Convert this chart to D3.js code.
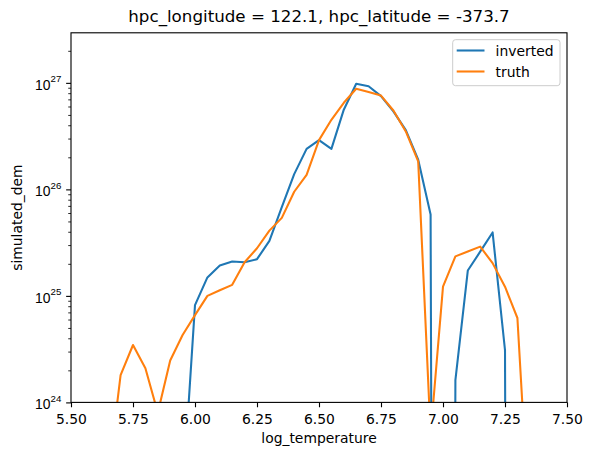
<!DOCTYPE html>
<html>
<head>
<meta charset="utf-8">
<script src="https://cdn.jsdelivr.net/npm/d3@7"></script>
<style>
  html, body { margin: 0; padding: 0; background: #fff; }
  svg { display: block; font-family: "DejaVu Sans", sans-serif; }
</style>
</head>
<body>
<svg id="chart" width="592" height="455"></svg>
<script>
// ---- data ----
const logTemperature = [5.50, 5.55, 5.60, 5.65, 5.70, 5.75, 5.80, 5.85, 5.90, 5.95,
  6.00, 6.05, 6.10, 6.15, 6.20, 6.25, 6.30, 6.35, 6.40, 6.45,
  6.50, 6.55, 6.60, 6.65, 6.70, 6.75, 6.80, 6.85, 6.90, 6.95,
  7.00, 7.05, 7.10, 7.15, 7.20, 7.25, 7.30, 7.35, 7.40, 7.45, 7.50];

const inverted = [1e-10, 1e-10, 1e-10, 1e-10, 1e-10, 1e-10, 1e-10, 1e-10, 1e-10, 1.3e23,
  8.2e24, 1.49e25, 1.93e25, 2.1e25, 2.07e25, 2.21e25, 3.29e25, 6.8e25, 1.39e26, 2.4e26,
  2.9e26, 2.4e26, 5.6e26, 9.8e26, 9.3e26, 7.5e26, 5.4e26, 3.6e26, 1.9e26, 5.8e25,
  1e-10, 1.62e24, 1.73e25, 2.6e25, 3.94e25, 3.1e24, 1e-10, 1e-10, 1e-10, 1e-10, 1e-10];

const truth = [1e-10, 1e-10, 1e-10, 2e23, 1.8e24, 3.46e24, 2.09e24, 8e23, 2.47e24, 4.3e24,
  6.6e24, 1.0e25, 1.13e25, 1.27e25, 2.07e25, 2.8e25, 4.1e25, 5.4e25, 9.5e25, 1.37e26,
  2.9e26, 4.5e26, 6.5e26, 8.8e26, 8.2e26, 7.6e26, 5.5e26, 3.5e26, 1.83e26, 5e23,
  1.22e25, 2.35e25, 2.61e25, 2.9e25, 2.03e25, 1.22e25, 6.2e24, 6e22, 1e-10, 1e-10, 1e-10];

const xTicks = [5.50, 5.75, 6.00, 6.25, 6.50, 6.75, 7.00, 7.25, 7.50];
const yTickExponents = [24, 25, 26, 27];
const xDomain = [5.5, 7.5];
const yDomain = [1e24, Math.pow(10, 27.47)];

const seriesNames = ["inverted", "truth"];
const seriesColors = ["#1f77b4", "#ff7f0e"];
const titleText = "hpc_longitude = 122.1, hpc_latitude = -373.7";
const xLabel = "log_temperature";
const yLabel = "simulated_dem";

// ---- layout ----
const L = 71, R = 567, T = 32.8, B = 402.4;
const svg = d3.select("#chart");

const x = d3.scaleLinear().domain(xDomain).range([L, R]);
const y = d3.scaleLog().domain(yDomain).range([B, T]);

svg.append("defs").append("clipPath").attr("id", "clip")
  .append("rect").attr("x", L).attr("y", T).attr("width", R - L).attr("height", B - T);

// lines
const series = [inverted, truth];
const line = d3.line().x((d, i) => x(logTemperature[i])).y(d => y(d));
const plot = svg.append("g").attr("clip-path", "url(#clip)");
series.forEach((s, k) => {
  plot.append("path")
    .datum(s)
    .attr("d", line)
    .attr("fill", "none")
    .attr("stroke", seriesColors[k])
    .attr("stroke-width", 2.08)
    .attr("stroke-linejoin", "round")
    .attr("stroke-linecap", "square");
});

// x axis
const xAxis = d3.axisBottom(x).tickValues(xTicks).tickFormat(d3.format(".2f"))
  .tickSize(4.86).tickPadding(3.5).tickSizeOuter(0);
const gx = svg.append("g").attr("transform", `translate(0,${B})`).call(xAxis);
gx.select(".domain").remove();
gx.selectAll(".tick line").attr("stroke", "#000").attr("stroke-width", 1.11);
gx.selectAll(".tick text").attr("font-size", 13.9).attr("fill", "#000")
  .attr("font-family", "DejaVu Sans").attr("dy", null).attr("y", 22);

// y axis major
const yMajor = yTickExponents.map(e => Math.pow(10, e));
const yAxis = d3.axisLeft(y).tickValues(yMajor).tickFormat("").tickSize(4.86).tickSizeOuter(0);
const gy = svg.append("g").attr("transform", `translate(${L},0)`).call(yAxis);
gy.select(".domain").remove();
gy.selectAll(".tick line").attr("stroke", "#000").attr("stroke-width", 1.11);
gy.selectAll(".tick").each(function(d, i) {
  const t = d3.select(this).append("text")
    .attr("x", -9.7).attr("y", 6.5)
    .attr("text-anchor", "end")
    .attr("fill", "#000")
    .attr("font-size", 13.9);
  t.append("tspan").text("10");
  t.append("tspan").attr("dy", -7.8).attr("font-size", 9.7).text(String(yTickExponents[i]));
});

// y minor ticks
const minorVals = [];
for (let e = 23; e <= 27; e++) {
  for (let m = 2; m <= 9; m++) {
    const v = m * Math.pow(10, e);
    if (v >= yDomain[0] && v <= yDomain[1]) minorVals.push(v);
  }
}
const yMinorAxis = d3.axisLeft(y).tickValues(minorVals).tickFormat("").tickSize(2.78).tickSizeOuter(0);
const gym = svg.append("g").attr("transform", `translate(${L},0)`).call(yMinorAxis);
gym.select(".domain").remove();
gym.selectAll(".tick line").attr("stroke", "#000").attr("stroke-width", 0.83);

// frame
svg.append("rect").attr("x", L).attr("y", T).attr("width", R - L).attr("height", B - T)
  .attr("fill", "none").attr("stroke", "#000").attr("stroke-width", 1.11);

// labels
svg.append("text").attr("x", (L + R) / 2).attr("y", 22).attr("text-anchor", "middle")
  .attr("font-size", 16.7).attr("fill", "#000").text(titleText);
svg.append("text").attr("x", (L + R) / 2).attr("y", 443).attr("text-anchor", "middle")
  .attr("font-size", 13.9).attr("fill", "#000").text(xLabel);
svg.append("text").attr("transform", `translate(22,${(T + B) / 2}) rotate(-90)`)
  .attr("text-anchor", "middle").attr("font-size", 13.9).attr("fill", "#000").text(yLabel);

// legend
const lg = svg.append("g");
lg.append("rect").attr("x", 452.7).attr("y", 39.7).attr("width", 107.3).attr("height", 46)
  .attr("rx", 2.8).attr("fill", "#fff").attr("fill-opacity", 0.8)
  .attr("stroke", "#cccccc").attr("stroke-width", 1.0);
seriesNames.forEach((name, k) => {
  const yy = 50.5 + k * 21;
  lg.append("line").attr("x1", 456.7).attr("x2", 484.5).attr("y1", yy).attr("y2", yy)
    .attr("stroke", seriesColors[k]).attr("stroke-width", 2.08);
  lg.append("text").attr("x", 495.6).attr("y", yy + 5).attr("font-size", 13.9)
    .attr("fill", "#000").text(name);
});
</script>
</body>
</html>
